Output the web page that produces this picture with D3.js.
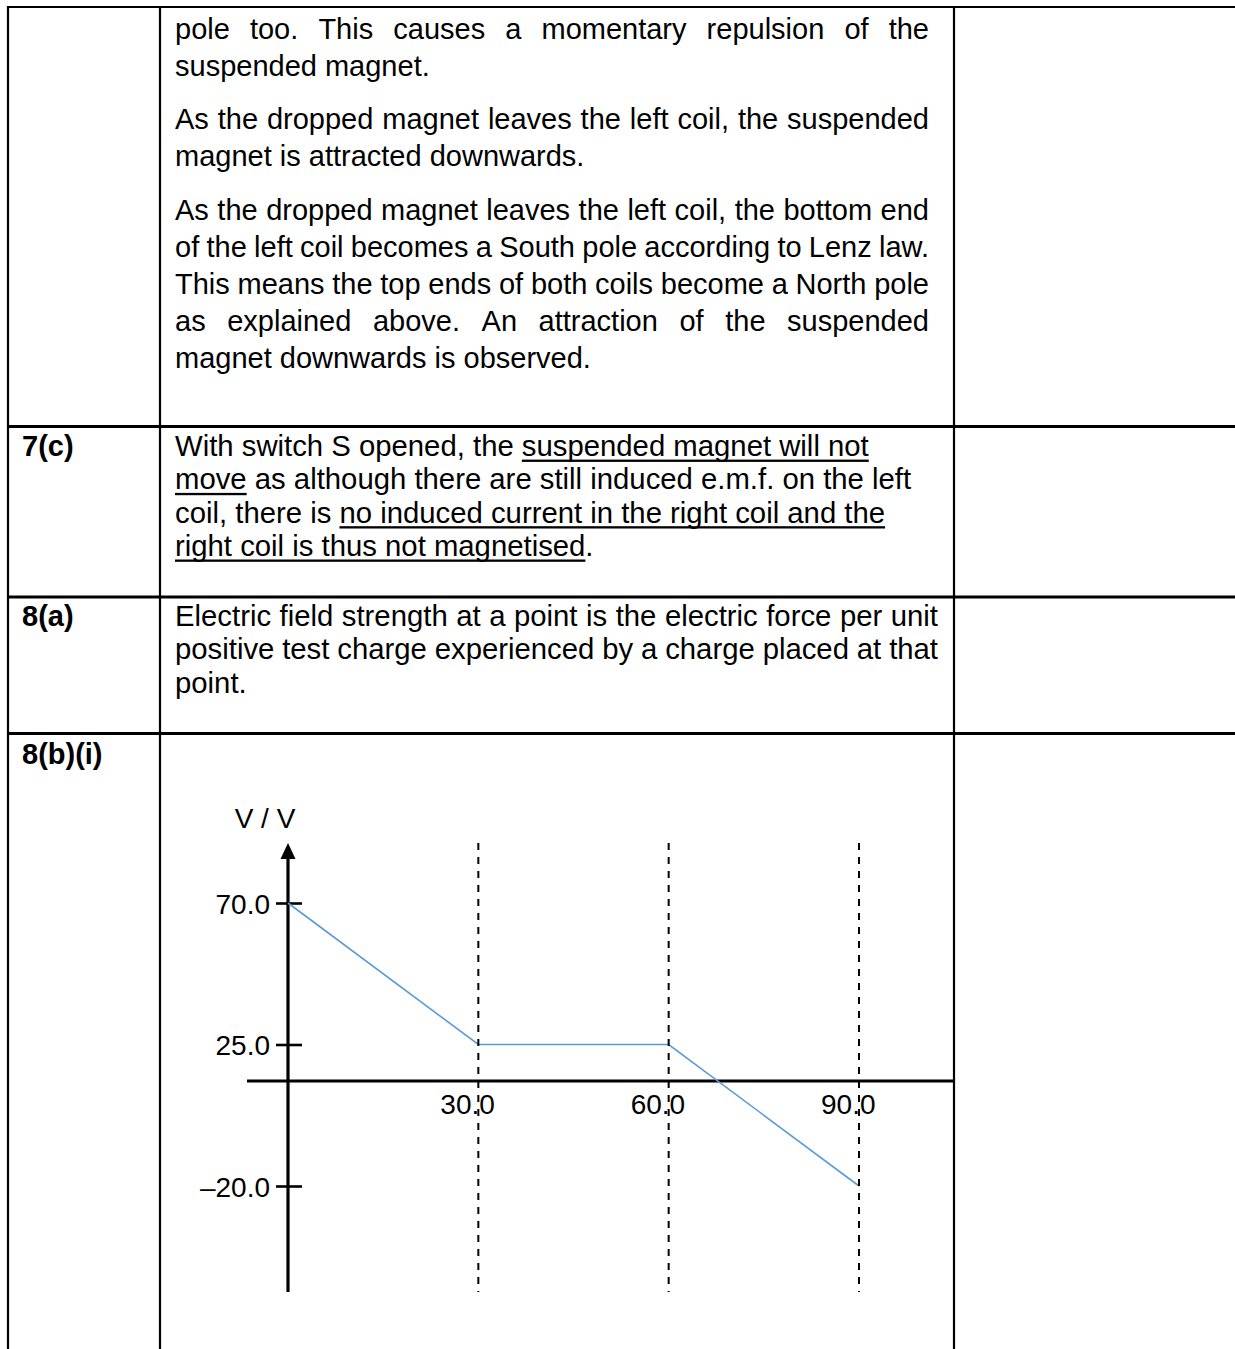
<!DOCTYPE html>
<html><head><meta charset="utf-8">
<script src="https://cdn.jsdelivr.net/npm/d3@7/dist/d3.min.js"></script>
<style>html,body{margin:0;padding:0;background:#fff;}svg{display:block}</style>
</head><body>
<svg id="c" width="1235" height="1349"></svg>
<script>
// ---------- data ----------
const distance = [0, 30, 60, 90];
const potential = [70, 25, 25, -20];
const xTickValues = [30, 60, 90];
const xTickLabels = ["30.0", "60.0", "90.0"];
const yTickValues = [70, 25, -20];
const yTickLabels = ["70.0", "25.0", "–20.0"];
const yAxisTitle = "V / V";
const rowLabels = ["7(c)", "8(a)", "8(b)(i)"];
const row1Paragraphs = [
  ["pole too. This causes a momentary repulsion of the", "suspended magnet."],
  ["As the dropped magnet leaves the left coil, the suspended", "magnet is attracted downwards."],
  ["As the dropped magnet leaves the left coil, the bottom end",
   "of the left coil becomes a South pole according to Lenz law.",
   "This means the top ends of both coils become a North pole",
   "as explained above. An attraction of the suspended",
   "magnet downwards is observed."]
];
const row7cLines = [
  "With switch S opened, the suspended magnet will not",
  "move as although there are still induced e.m.f. on the left",
  "coil, there is no induced current in the right coil and the",
  "right coil is thus not magnetised."
];
const row7cUnderlines = [
  ["suspended magnet will not"],
  ["move"],
  ["no induced current in the right coil and the"],
  ["right coil is thus not magnetised"]
];
const row8aLines = [
  "Electric field strength at a point is the electric force per unit",
  "positive test charge experienced by a charge placed at that",
  "point."
];

// ---------- layout ----------
const W = 1235, H = 1349;
const FONT = "'Liberation Sans', Arial, Helvetica, sans-serif";
const FS = 29;
const FS2 = 29.3;
const svg = d3.select("#c");
svg.append("rect").attr("width", W).attr("height", H).attr("fill", "#fff");

// table grid
const colX = [8, 160, 954];
const rowY = [7, 426.5, 597, 733.5];
const grid = svg.append("g").attr("stroke", "#000");
colX.forEach(x => grid.append("line").attr("x1", x).attr("x2", x).attr("y1", 6).attr("y2", H).attr("stroke-width", 2.2));
rowY.forEach((y, i) => grid.append("line").attr("x1", 7).attr("x2", W).attr("y1", y).attr("y2", y).attr("stroke-width", i === 0 ? 2.2 : 2.8));

const textX = 175;

function measure(str, fs) {
  const t = svg.append("text").attr("font-family", FONT).attr("font-size", fs).style("white-space", "pre").text(str);
  const w = t.node().getComputedTextLength();
  t.remove();
  return w;
}

function justifiedLine(str, y, fs, width) {
  const words = str.split(" ");
  const widths = words.map(w => measure(w, fs));
  const sum = d3.sum(widths);
  const gap = (width - sum) / (words.length - 1);
  let x = textX;
  const g = svg.append("g");
  words.forEach((w, i) => {
    g.append("text").attr("x", x).attr("y", y).attr("font-family", FONT).attr("font-size", fs).attr("fill", "#000").text(w);
    x += widths[i] + gap;
  });
}

function plainLine(str, y, fs, underlines) {
  const t = svg.append("text").attr("x", textX).attr("y", y).attr("font-family", FONT)
    .attr("font-size", fs).attr("fill", "#000").style("white-space", "pre").text(str);
  (underlines || []).forEach(u => {
    const i0 = str.indexOf(u);
    if (i0 < 0) return;
    const n = t.node();
    const xs = n.getStartPositionOfChar(i0).x;
    const xe = n.getEndPositionOfChar(i0 + u.length - 1).x;
    svg.append("rect").attr("x", xs).attr("y", y + 3.6).attr("width", xe - xs).attr("height", 2.3).attr("fill", "#000");
  });
}

// row 1 paragraphs (justified)
const parBaselines = [[38.5, 75.5], [128.5, 165.5], [220, 257, 294, 331, 368]];
row1Paragraphs.forEach((p, pi) => {
  p.forEach((line, li) => {
    const y = parBaselines[pi][li];
    if (li < p.length - 1) justifiedLine(line, y, FS, 754); else plainLine(line, y, FS);
  });
});

// row labels
const labelBaselines = [456, 626, 764];
rowLabels.forEach((l, i) => svg.append("text").attr("x", 22).attr("y", labelBaselines[i])
  .attr("font-family", FONT).attr("font-size", FS).attr("font-weight", "bold").text(l));

row7cLines.forEach((l, i) => plainLine(l, 456 + i * 33.3, FS2, row7cUnderlines[i]));
row8aLines.forEach((l, i) => {
  const yy = 626 + i * 33.3;
  if (i < row8aLines.length - 1) justifiedLine(l, yy, FS2, 763); else plainLine(l, yy, FS2);
});

// ---------- chart ----------
const x = d3.scaleLinear().domain([0, 90]).range([288, 859]);
const y = d3.scaleLinear().domain([-20, 70]).range([1186, 903]);
const LFS = 28;
const xAxisLineY = 1081, axisTop = 843, axisBottom = 1292;
const chart = svg.append("g");

// y-axis line + arrow
const x0 = x(0);
chart.append("line").attr("x1", x0).attr("x2", x0).attr("y1", axisBottom).attr("y2", axisTop + 12)
  .attr("stroke", "#000").attr("stroke-width", 3.2);
chart.append("path").attr("d", `M${x0},${axisTop} L${x0 - 7.5},${axisTop + 16} L${x0 + 7.5},${axisTop + 16} Z`).attr("fill", "#000");
chart.append("text").attr("x", x0 - 23).attr("y", 828).attr("text-anchor", "middle")
  .attr("font-family", FONT).attr("font-size", LFS).text(yAxisTitle);

// x-axis line
chart.append("line").attr("x1", 247).attr("x2", 954).attr("y1", xAxisLineY).attr("y2", xAxisLineY)
  .attr("stroke", "#000").attr("stroke-width", 3.2);

// y ticks
const yAxis = chart.append("g").attr("transform", `translate(${x0},0)`)
  .call(d3.axisLeft(y).tickValues(yTickValues).tickFormat((d, i) => yTickLabels[i]).tickSize(12).tickPadding(6));
yAxis.select(".domain").remove();
yAxis.selectAll(".tick line").attr("x1", 14).attr("stroke", "#000").attr("stroke-width", 2.6);
yAxis.selectAll(".tick text").attr("font-family", FONT).attr("font-size", LFS).attr("fill", "#000").attr("dy", "0.36em");
yAxis.attr("font-family", null).attr("font-size", null);

// x ticks
const xAxis = chart.append("g").attr("transform", `translate(0,${xAxisLineY})`)
  .call(d3.axisBottom(x).tickValues(xTickValues).tickFormat((d, i) => xTickLabels[i]).tickSize(0).tickPadding(13));
xAxis.select(".domain").remove();
xAxis.selectAll(".tick text").attr("font-family", FONT).attr("font-size", LFS).attr("fill", "#000")
  .attr("text-anchor", "end").attr("x", 16);
xAxis.attr("font-family", null).attr("font-size", null);

// potential line
const pts = distance.map((d, i) => ({ d, v: potential[i] }));
chart.append("path").datum(pts)
  .attr("d", d3.line().x(p => x(p.d)).y(p => y(p.v)))
  .attr("fill", "none").attr("stroke", "#5b9bd5").attr("stroke-width", 1.6);

// dashed guides
chart.selectAll(".guide").data(xTickValues).enter().append("line")
  .attr("x1", d => x(d)).attr("x2", d => x(d)).attr("y1", axisTop).attr("y2", axisBottom)
  .attr("stroke", "#000").attr("stroke-width", 2).attr("stroke-dasharray", "7,7");
</script>
</body></html>
